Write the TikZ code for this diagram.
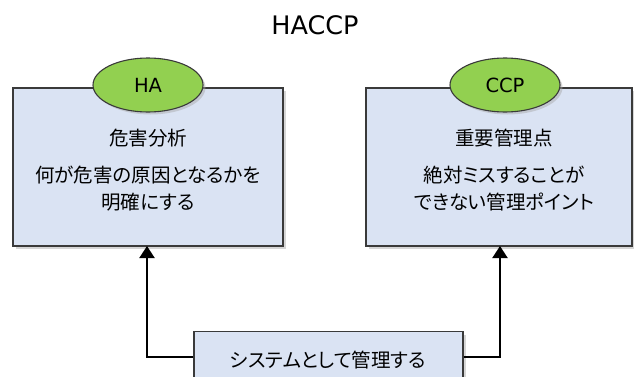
\documentclass[tikz,border=0pt]{standalone}
\usepackage{fontspec}
\setmainfont{Noto Sans CJK JP}[RawFeature=+palt]
\newfontfamily\latinfont{DejaVu Sans}
\usetikzlibrary{shadows,arrows.meta,shapes.geometric}
\definecolor{boxfill}{HTML}{DAE3F3}
\definecolor{ovalfill}{HTML}{92D050}
\definecolor{edge}{HTML}{3A3A3A}
\tikzset{
  mainbox/.style={draw=edge, line width=1.2pt, fill=boxfill, rectangle,
    drop shadow={shadow xshift=3pt, shadow yshift=-3pt, fill=black!35, opacity=0.45}},
  oval/.style={draw=edge, line width=1.1pt, fill=ovalfill, ellipse, minimum width=110pt, minimum height=54pt,
    inner sep=0pt, font=\latinfont\fontsize{19.5}{22}\selectfont,
    drop shadow={shadow xshift=2.5pt, shadow yshift=-2.5pt, fill=black!35, opacity=0.45}},
  txt/.style={font=\fontsize{19.5}{22}\selectfont, align=center, inner sep=0pt},
  conn/.style={line width=2pt, -{Triangle[length=12pt,width=15pt]}}
}
\begin{document}
\begin{tikzpicture}[x=1pt,y=1pt]
\useasboundingbox (0,0) rectangle (634,376);
\clip (0,0) rectangle (634,376);
\fill[white] (0,0) rectangle (634,376);
\node[font=\latinfont\fontsize{25.5}{28}\selectfont] (title) at (315,351) {HACCP};
% left box
\node[mainbox, minimum width=270pt, minimum height=158pt] (ha) at (148,209) {};
\node[oval] (haoval) at (148,291) {HA};
\node[txt] (hat1) at (148,238) {危害分析};
\node[txt] (hat2) at (148,201) {何が危害の原因となるかを};
\node[txt] (hat3) at (148,174) {明確にする};
% right box
\node[mainbox, minimum width=266pt, minimum height=158pt] (ccp) at (499,209) {};
\node[oval] (ccpoval) at (505,291) {CCP};
\node[txt] (ccpt1) at (504,238) {重要管理点};
\node[txt] (ccpt2) at (504,201) {絶対ミスすることが};
\node[txt] (ccpt3) at (504,174) {できない管理ポイント};
% bottom box
\node[mainbox, minimum width=269pt, minimum height=60pt, anchor=north] (sys) at (328.5,45) {};
\node[txt] (syst) at (328,16) {システムとして管理する};
\coordinate (lb) at (147,130);
\coordinate (rb) at (500,130);
\draw[conn] ([yshift=5pt]sys.west) -| (lb);
\draw[conn] ([yshift=5pt]sys.east) -| (rb);
\end{tikzpicture}
\end{document}
